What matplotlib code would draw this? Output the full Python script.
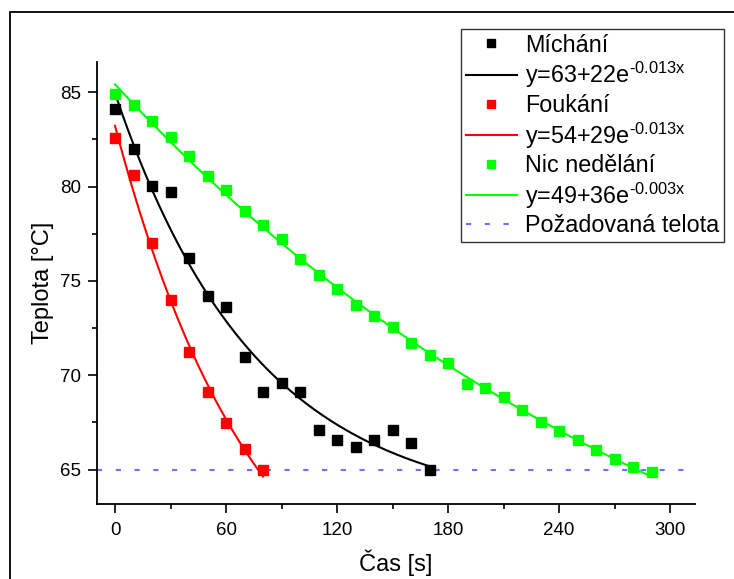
import numpy as np
import matplotlib
matplotlib.use("Agg")
import matplotlib.pyplot as plt
from matplotlib.patches import Rectangle
from matplotlib.ticker import MultipleLocator

plt.rcParams['font.family'] = ['Liberation Sans', 'DejaVu Sans']
plt.rcParams['mathtext.fontset'] = 'custom'
plt.rcParams['mathtext.rm'] = 'Liberation Sans'

# ---- data ----
t_mix = [0, 10, 20, 30, 40, 50, 60, 70, 80, 90, 100, 110, 120, 130, 140, 150, 160, 170]
T_mix = [84.1, 82.0, 80.05, 79.7, 76.2, 74.2, 73.6, 70.95, 69.1, 69.6, 69.1, 67.1, 66.55, 66.2, 66.55, 67.1, 66.4, 65.0]

t_blow = [0, 10, 20, 30, 40, 50, 60, 70, 80]
T_blow = [82.55, 80.6, 77.0, 74.0, 71.25, 69.1, 67.45, 66.1, 65.0]

t_none = [0, 10, 20, 30, 40, 50, 60, 70, 80, 90, 100, 110, 120, 130, 140, 150,
          160, 170, 180, 190, 200, 210, 220, 230, 240, 250, 260, 270, 280, 290]
T_none = [84.9, 84.3, 83.45, 82.65, 81.6, 80.55, 79.8, 78.7, 77.95, 77.2, 76.15, 75.3,
          74.55, 73.75, 73.15, 72.55, 71.7, 71.05, 70.65, 69.55, 69.35, 68.85, 68.15,
          67.55, 67.05, 66.55, 66.05, 65.55, 65.15, 64.85]

target_x = [-10, 310]
target_T = [65, 65]

labels_pts = ["Míchání", "Foukání", "Nic nedělání"]
labels_fit = ["y=63+22e$^{\\mathregular{\u2010 0.013x}}$",
              "y=54+29e$^{\\mathregular{\u2010 0.013x}}$",
              "y=49+36e$^{\\mathregular{\u2010 0.003x}}$"]
label_target = "Požadovaná telota"
colors = ["#000000", "#ff0000", "#00ff00"]

x_ticks = [0, 60, 120, 180, 240, 300]
y_ticks = [65, 70, 75, 80, 85]


def exp_fit(x, y):
    x = np.asarray(x, float)
    y = np.asarray(y, float)
    best = None
    for k in np.linspace(0.0005, 0.06, 6000):
        A = np.column_stack([np.ones_like(x), np.exp(-k * x)])
        coef, *_ = np.linalg.lstsq(A, y, rcond=None)
        sse = np.sum((A @ coef - y) ** 2)
        if best is None or sse < best[0]:
            best = (sse, coef[0], coef[1], k)
    return best[1:]


fig = plt.figure(figsize=(7.34, 5.79), dpi=100)
ax = fig.add_axes([96.5 / 734, 1 - 504 / 579, (695 - 96.5) / 734, (504 - 62) / 579])

series = [(t_mix, T_mix), (t_blow, T_blow), (t_none, T_none)]
handles = []
for (tx, ty), c, lp, lf in zip(series, colors, labels_pts, labels_fit):
    a, b, k = exp_fit(tx, ty)
    xs = np.linspace(0, max(tx), 200)
    ln, = ax.plot(xs, a + b * np.exp(-k * xs), color=c, lw=1.5, zorder=2)
    pt, = ax.plot(tx, ty, 's', color=c, ms=7.2, mec=c, zorder=3, linestyle='none')
    handles += [pt, ln]
    pt.set_label(lp)
    ln.set_label(lf)

tl, = ax.plot(target_x, target_T, color='#7070ff', lw=1.5, dashes=(2.5, 6.5), label=label_target, zorder=1)
handles.append(tl)

ax.set_xlim(-10, 313.5)
ax.set_ylim(63.18, 86.6)
ax.set_xticks(x_ticks)
ax.set_yticks(y_ticks)
ax.xaxis.set_minor_locator(MultipleLocator(30))
ax.yaxis.set_minor_locator(MultipleLocator(2.5))
ax.tick_params(which='major', direction='out', length=6.3, width=1.2, labelsize=13.5)
ax.tick_params(axis='x', which='major', pad=6.5)
ax.tick_params(axis='y', which='major', pad=5)
ax.tick_params(which='minor', direction='out', length=3.5, width=1.2)
for s in ['top', 'right']:
    ax.spines[s].set_visible(False)
for s in ['left', 'bottom']:
    ax.spines[s].set_linewidth(1.3)

ax.set_xlabel("Čas [s]", fontsize=17, labelpad=8)
ax.set_ylabel("Teplota [°C]", fontsize=17, labelpad=4)

leg = fig.legend(handles=handles, loc='upper right',
                 bbox_to_anchor=(724 / 734, 1 - 29 / 579), bbox_transform=fig.transFigure,
                 fontsize=16.8, frameon=True, fancybox=False, borderaxespad=0,
                 handlelength=2.2, handletextpad=0.35, labelspacing=0.15,
                 borderpad=0.2, markerscale=0.85)
leg.get_frame().set_edgecolor('black')
leg.get_frame().set_linewidth(1.0)

fig.patches.append(Rectangle((10 / 734, -0.1), 1.2, 1.1 - 12.5 / 579, transform=fig.transFigure,
                             fill=False, edgecolor='black', lw=1.3, clip_on=False))

fig.savefig("out.png", dpi=100)
